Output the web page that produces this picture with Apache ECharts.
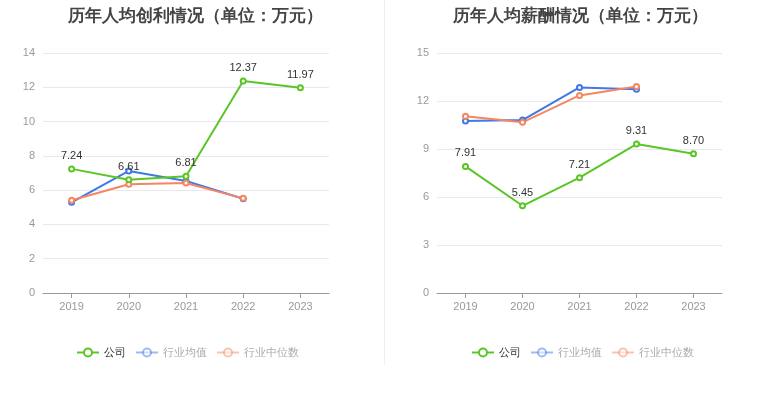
<!DOCTYPE html>
<html><head><meta charset="utf-8">
<script src="https://cdn.jsdelivr.net/npm/echarts@6/dist/echarts.min.js"></script>
<style>html,body{margin:0;padding:0;background:#fff}#c{width:765px;height:393px}</style>
</head><body><div id="c"></div>
<script>
var years = ['2019','2020','2021','2022','2023'];
var profitCompany = [7.24, 6.61, 6.81, 12.37, 11.97];
var profitMean = [5.29, 7.12, 6.53, 5.50];
var profitMedian = [5.41, 6.34, 6.42, 5.52];
var salaryCompany = [7.91, 5.45, 7.21, 9.31, 8.70];
var salaryMean = [10.75, 10.81, 12.85, 12.73];
var salaryMedian = [11.04, 10.67, 12.35, 12.90];
var titles = ['历年人均创利情况（单位：万元）', '历年人均薪酬情况（单位：万元）'];
var names = ['公司', '行业均值', '行业中位数'];
var colors = ['#5ac626', '#3f78e8', '#f4875f'];

var chart = echarts.init(document.getElementById('c'), null, {renderer: 'canvas'});
function ser(name, data, color, xi, showLabel) {
  return {
    name: name, type: 'line', data: data, xAxisIndex: xi, yAxisIndex: xi,
    symbol: 'emptyCircle', symbolSize: 5,
    lineStyle: {width: 2, color: color},
    itemStyle: {color: color, borderWidth: 1.5},
    label: {show: showLabel, position: 'top', distance: 4, color: '#333', fontSize: 11,
      formatter: function (p) { return p.value.toFixed(2); }},
    emphasis: {disabled: true}
  };
}
function legendData() {
  return [
    {name: names[0], textStyle: {color: '#333'}},
    {name: names[1], itemStyle: {opacity: 0.5}, lineStyle: {opacity: 0.5}, textStyle: {color: '#aaa'}},
    {name: names[2], itemStyle: {opacity: 0.5}, lineStyle: {opacity: 0.5}, textStyle: {color: '#aaa'}}
  ];
}
var axisLabel = {color: '#999', fontSize: 11};
chart.setOption({
  animation: false,
  color: colors,
  title: [
    {text: titles[0], left: 190, top: 3, textAlign: 'center', textStyle: {fontSize: 17, fontWeight: 'bold', color: '#444'}},
    {text: titles[1], left: 575, top: 3, textAlign: 'center', textStyle: {fontSize: 17, fontWeight: 'bold', color: '#444'}}
  ],
  legend: [
    {data: legendData(), left: 71, top: 342, itemWidth: 22, itemHeight: 10, itemGap: 9, textStyle: {fontSize: 11}, selectedMode: false},
    {data: legendData(), left: 466, top: 342, itemWidth: 22, itemHeight: 10, itemGap: 9, textStyle: {fontSize: 11}, selectedMode: false}
  ],
  grid: [
    {left: 43, top: 53, width: 286, height: 240},
    {left: 437, top: 53, width: 285, height: 240}
  ],
  xAxis: [0, 1].map(function (i) {
    return {type: 'category', gridIndex: i, data: years, boundaryGap: true,
      axisLine: {lineStyle: {color: '#999'}}, axisTick: {show: true, alignWithLabel: true, lineStyle: {color: '#999'}},
      axisLabel: axisLabel};
  }),
  yAxis: [
    {type: 'value', gridIndex: 0, min: 0, max: 14, interval: 2, axisLabel: axisLabel,
      splitLine: {lineStyle: {color: '#e8e8f0'}}, axisLine: {show: false}, axisTick: {show: false}},
    {type: 'value', gridIndex: 1, min: 0, max: 15, interval: 3, axisLabel: axisLabel,
      splitLine: {lineStyle: {color: '#e8e8f0'}}, axisLine: {show: false}, axisTick: {show: false}}
  ],
  graphic: [{type: 'line', shape: {x1: 384.5, y1: 0, x2: 384.5, y2: 365}, style: {stroke: '#eeeeee', lineWidth: 1}}],
  series: [
    ser(names[1], profitMean, colors[1], 0, false),
    ser(names[2], profitMedian, colors[2], 0, false),
    ser(names[0], profitCompany, colors[0], 0, true),
    ser(names[1], salaryMean, colors[1], 1, false),
    ser(names[2], salaryMedian, colors[2], 1, false),
    ser(names[0], salaryCompany, colors[0], 1, true)
  ]
});
</script></body></html>
